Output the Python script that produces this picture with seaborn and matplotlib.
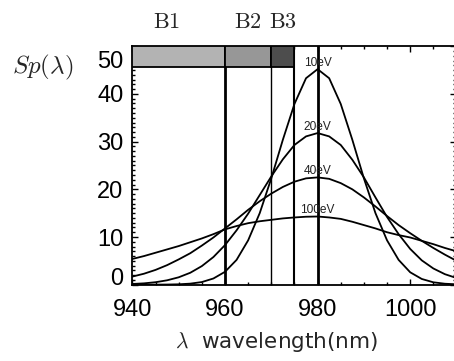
import matplotlib
matplotlib.use("Agg")
import matplotlib.pyplot as plt
from matplotlib.ticker import MultipleLocator
from matplotlib.transforms import ScaledTranslation
import numpy as np
import pandas as pd
import seaborn as sns

# ── Data ────────────────────────────────────────────────────────────────────
wavelength = [940, 942.5, 945, 947.5, 950, 952.5, 955, 957.5, 960, 962.5,
              965, 967.5, 970, 972.5, 975, 977.5, 980, 982.5, 985, 987.5,
              990, 992.5, 995, 997.5, 1000, 1002.5, 1005, 1007.5, 1010]

sp_10ev = [0.0, 0.0, 0.01, 0.03, 0.08, 0.22, 0.55, 1.3, 2.7, 5.2,
           9.3, 15.0, 22.3, 30.4, 37.9, 43.3, 45.2, 43.3, 37.9, 30.4,
           22.3, 15.0, 9.3, 5.2, 2.6, 1.2, 0.5, 0.2, 0.08]
sp_20ev = [0.15, 0.28, 0.52, 0.92, 1.55, 2.5, 3.9, 5.8, 8.3, 11.4,
           14.9, 18.8, 22.7, 26.3, 29.3, 31.1, 31.8, 31.1, 29.3, 26.2,
           22.5, 18.3, 14.2, 10.6, 7.5, 5.1, 3.4, 2.2, 1.4]
sp_40ev = [1.7, 2.3, 3.1, 4.1, 5.3, 6.6, 8.2, 9.9, 11.8, 13.7,
           15.7, 17.5, 19.1, 20.5, 21.6, 22.3, 22.5, 22.2, 21.3, 20.0,
           18.3, 16.4, 14.4, 12.5, 10.8, 9.2, 7.7, 6.3, 5.0]
sp_100ev = [5.4, 6.0, 6.7, 7.4, 8.1, 8.9, 9.7, 10.6, 11.6, 12.3,
            12.9, 13.3, 13.6, 13.9, 14.1, 14.25, 14.3, 14.1, 13.8, 13.2,
            12.5, 11.8, 11.0, 10.4, 9.9, 9.2, 8.5, 7.7, 7.0]
energies = ["10eV", "20eV", "40eV", "100eV"]

band_names = ["B1", "B2", "B3"]
band_start = [940, 960, 970]
band_end = [960, 970, 975]
band_colors = ["#b3b3b3", "#979797", "#4d4d4d"]
band_label_x = [947.3, 965, 972.5]
band_low, band_high = 45.7, 50

marker_lines = [960, 970, 975, 980]
marker_widths = [2.0, 1.0, 1.5, 2.0]

df = pd.DataFrame({
    "wavelength": wavelength * 4,
    "sp": sp_10ev + sp_20ev + sp_40ev + sp_100ev,
    "energy": np.repeat(energies, len(wavelength)),
})

# ── Style ───────────────────────────────────────────────────────────────────
sns.set_theme(style="ticks")
plt.rcParams["font.family"] = ["Liberation Sans", "DejaVu Sans"]
plt.rcParams["mathtext.fontset"] = "cm"

fig = plt.figure(figsize=(4.54, 3.61), dpi=100)
ax = fig.add_axes([0.2916, 0.2114, 0.7139, 0.6604])

for x, lw in zip(marker_lines, marker_widths):
    ax.axvline(x, color="black", linewidth=lw, zorder=2)

for name in energies:
    sub = df[df["energy"] == name]
    sns.lineplot(data=sub, x="wavelength", y="sp", color="black",
                 linewidth=1.3, ax=ax, zorder=3)
    ax.text(980, sub["sp"].max() + 1.3, name, ha="center", va="center",
            fontsize=8.6, color="#222222", zorder=4)

ax.bar(band_start, band_high - band_low,
       width=np.array(band_end) - np.array(band_start),
       bottom=band_low, align="edge", color=band_colors,
       edgecolor="black", linewidth=1.3, zorder=5)

for name, x in zip(band_names, band_label_x):
    ax.text(x, 1.0755, rf"$\mathrm{{{name}}}$", transform=ax.get_xaxis_transform(),
            ha="center", va="baseline", fontsize=16)

ax.set_xlim(940, 1010)
ax.set_ylim(0, 50)
ax.set_xticks([940, 960, 980, 1000])
ax.set_yticks([0, 10, 20, 30, 40, 50])
ax.xaxis.set_minor_locator(MultipleLocator(5))
ax.yaxis.set_minor_locator(MultipleLocator(1))
ax.tick_params(which="both", direction="in", top=True, right=True,
               width=1.0, color="black", labelsize=17, labelcolor="black")
ax.tick_params(which="major", length=4.5)
ax.tick_params(which="minor", length=2.2)
ax.tick_params(axis="x", pad=10.5)
ax.tick_params(axis="y", pad=6.5)

# end labels pulled inside the axis range, as in the original
yticks = ax.yaxis.get_major_ticks()
yticks[0].label1.set_va("baseline")
top_label = yticks[-1].label1
top_label.set_va("top")
top_label.set_transform(top_label.get_transform()
                        + ScaledTranslation(0, -3.5 / 72, fig.dpi_scale_trans))

for spine in ax.spines.values():
    spine.set_color("black")
    spine.set_linewidth(1.3)

ax.set_xlabel("")
ax.set_ylabel("")
fig.text(276.5 / 454, 1 - 348.3 / 361, r"$\lambda$  wavelength(nm)",
         family="DejaVu Sans", fontsize=15.5, ha="center", va="baseline")
fig.text(42.5 / 454, 1 - 73.3 / 361, r"$Sp(\lambda)$", fontsize=18,
         ha="center", va="baseline")

fig.savefig("out.png", dpi=100)
